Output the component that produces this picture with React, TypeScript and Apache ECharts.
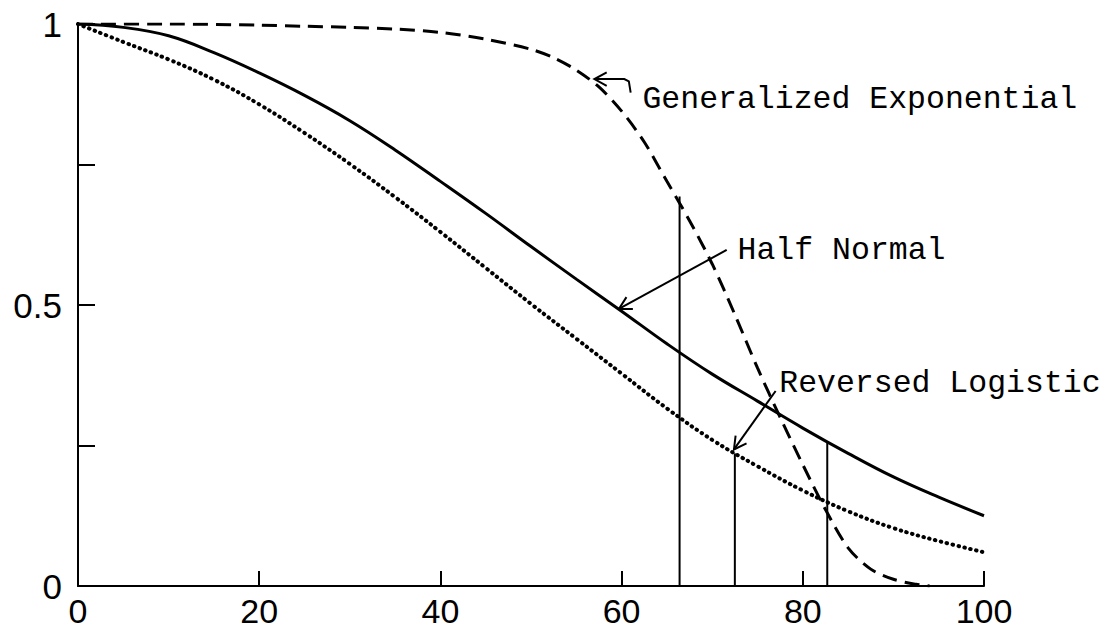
import React, { useEffect, useRef } from "react";
import * as echarts from "echarts";

// x positions (percent) at which the curves were read
const xs = [0, 5, 10, 15, 20, 25, 30, 35, 40, 45, 50, 55, 60, 65, 70, 75, 80, 85, 90, 95, 100];
const halfNormal = [1.0, 0.994, 0.979, 0.949, 0.913, 0.873, 0.828, 0.776, 0.72, 0.663, 0.604, 0.546, 0.489, 0.431, 0.377, 0.329, 0.281, 0.236, 0.194, 0.158, 0.125];
const reversedLogistic = [1.0, 0.968, 0.937, 0.901, 0.857, 0.806, 0.751, 0.692, 0.63, 0.566, 0.502, 0.44, 0.378, 0.316, 0.26, 0.213, 0.17, 0.133, 0.103, 0.08, 0.06];

const genExpX = [0, 10, 20, 25, 30, 35, 40, 45, 50, 52.5, 55, 57.5, 60, 62.5, 65, 67.5, 70, 72.5, 75, 77.5, 80, 82.5, 85, 87.5, 90, 92.5, 94];
const genExpY = [1.0, 1.0, 0.998, 0.996, 0.994, 0.991, 0.985, 0.973, 0.955, 0.94, 0.918, 0.888, 0.845, 0.79, 0.72, 0.65, 0.573, 0.483, 0.388, 0.3, 0.216, 0.136, 0.068, 0.03, 0.012, 0.003, 0.0];

// vertical reference lines (x position and the height they reach)
const markerX = [66.4, 72.5, 82.7];
const markerTop = [0.693, 0.236, 0.255];

// tick labels shown on the y axis
const yLabels: Record<string, string> = { "0": "0", "0.5": "0.5", "1": "1" };

// annotations: label, text anchor, arrow path (tail ... tip) in data coordinates
const annoLabels = ["Generalized Exponential", "Half Normal", "Reversed Logistic"];
const annoTextAt = [[62.3, 0.866], [72.8, 0.597], [77.4, 0.361]];
const annoPaths = [
  [[61.0, 0.878], [60.8, 0.898], [60.3, 0.902], [57.0, 0.902]],
  [[71.6, 0.598], [59.7, 0.493]],
  [[77.0, 0.347], [72.4, 0.243]],
];

export default function App() {
  const ref = useRef<HTMLDivElement>(null);
  useEffect(() => {
    if (!ref.current) return;
    const chart = echarts.init(ref.current, null, { renderer: "svg" });
    const black = "#000";
    const markerSeries = markerX.map((x, i) => ({
      type: "line",
      data: [[x, 0], [x, markerTop[i]]],
      symbol: "none",
      lineStyle: { color: black, width: 2 },
      silent: true,
    }));
    chart.setOption({
      animation: false,
      backgroundColor: "#fff",
      grid: { left: 78, right: 124, top: 24, bottom: 49 },
      xAxis: {
        type: "value",
        min: 0,
        max: 100,
        interval: 20,
        axisLine: { lineStyle: { color: black, width: 2 } },
        axisTick: { inside: true, length: 15, lineStyle: { color: black, width: 2 } },
        axisLabel: { color: black, fontSize: 34, fontFamily: "Liberation Sans", margin: 8 },
        splitLine: { show: false },
      },
      yAxis: {
        type: "value",
        min: 0,
        max: 1,
        interval: 0.25,
        axisLine: { show: true, lineStyle: { color: black, width: 2 } },
        axisTick: { show: true, inside: true, length: 17, lineStyle: { color: black, width: 2 } },
        axisLabel: {
          color: black,
          fontSize: 35,
          fontFamily: "Liberation Sans",
          margin: 16,
          formatter: (v: number) => yLabels[String(v)] ?? "",
        },
        splitLine: { show: false },
      },
      series: [
        {
          name: "Generalized Exponential",
          type: "line",
          data: genExpX.map((x, i) => [x, genExpY[i]]),
          symbol: "none",
          smooth: 0.3,
          lineStyle: { color: black, width: 3, type: [15, 8] },
        },
        {
          name: "Half Normal",
          type: "line",
          data: xs.map((x, i) => [x, halfNormal[i]]),
          symbol: "none",
          smooth: 0.4,
          lineStyle: { color: black, width: 3 },
        },
        {
          name: "Reversed Logistic",
          type: "line",
          data: xs.map((x, i) => [x, reversedLogistic[i]]),
          symbol: "none",
          smooth: 0.4,
          lineStyle: { color: black, width: 4, type: [0.5, 5.5], cap: "round" },
        },
        ...markerSeries,
      ],
    });

    const toPx = (p: number[]) => chart.convertToPixel({ gridIndex: 0 }, p) as number[];
    const graphics: any[] = [];
    annoPaths.forEach((path, i) => {
      const pts = path.map(toPx);
      graphics.push({
        type: "polyline",
        shape: { points: pts },
        style: { stroke: black, lineWidth: 2, fill: null },
        silent: true,
      });
      const tip = pts[pts.length - 1];
      const prev = pts[pts.length - 2];
      const ang = Math.atan2(prev[1] - tip[1], prev[0] - tip[0]);
      const L = 14;
      const w1 = [tip[0] + L * Math.cos(ang + 0.5), tip[1] + L * Math.sin(ang + 0.5)];
      const w2 = [tip[0] + L * Math.cos(ang - 0.5), tip[1] + L * Math.sin(ang - 0.5)];
      graphics.push({
        type: "polyline",
        shape: { points: [w1, tip, w2] },
        style: { stroke: black, lineWidth: 2, fill: null },
        silent: true,
      });
      const t = toPx(annoTextAt[i]);
      graphics.push({
        type: "text",
        x: t[0],
        y: t[1],
        style: {
          text: annoLabels[i],
          fill: black,
          font: "31.5px 'Liberation Mono', monospace",
          align: "left",
          verticalAlign: "middle",
        },
        silent: true,
      });
    });
    chart.setOption({ graphic: graphics });
    return () => chart.dispose();
  }, []);
  return (
    <div
      ref={ref}
      style={{ position: "fixed", left: 0, top: 0, width: 1108, height: 635, background: "#fff" }}
    />
  );
}
